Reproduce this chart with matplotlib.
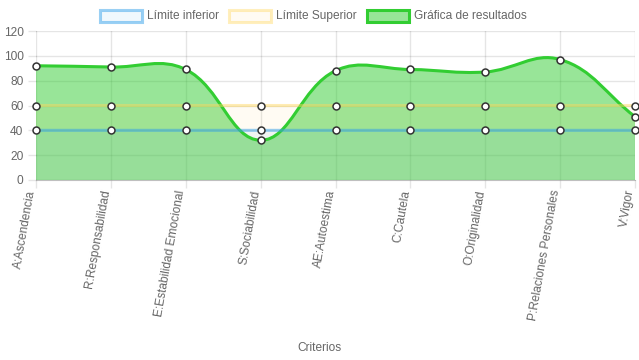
import matplotlib
matplotlib.use("Agg")
import matplotlib.pyplot as plt
from matplotlib.path import Path
from matplotlib.patches import PathPatch, Rectangle
from matplotlib.transforms import ScaledTranslation, blended_transform_factory
import numpy as np

categories = ["A:Ascendencia", "R:Responsabilidad", "E:Estabilidad Emocional",
              "S:Sociabilidad", "AE:Autoestima", "C:Cautela", "O:Originalidad",
              "P:Relaciones Personales", "V:Vigor"]
limite_inferior = [40, 40, 40, 40, 40, 40, 40, 40, 40]
limite_superior = [60, 60, 60, 60, 60, 60, 60, 60, 60]
resultados = [92, 91, 89, 32, 88, 89, 87, 97, 51]
y_ticks = [0, 20, 40, 60, 80, 100, 120]
legend_labels = ["Límite inferior", "Límite Superior", "Gráfica de resultados"]

plt.rcParams['font.family'] = ['Liberation Sans', 'DejaVu Sans']
TXT = '#666666'
FS = 8.6
W, H = 639, 360
fig = plt.figure(figsize=(W / 100, H / 100), dpi=100)
L, R, T, B = 36, 635, 31, 180
ax = fig.add_axes([L / W, 1 - B / H, (R - L) / W, (B - T) / H])
n = len(categories)
x = np.arange(n)
ax.set_xlim(0, n - 1)
ax.set_ylim(0, 120)

def spline_path(xs, ys, tension=0.4):
    pts = ax.transData.transform(np.column_stack([xs, ys]))
    m = len(pts)
    verts = [pts[0]]
    codes = [Path.MOVETO]
    cps = []
    for i in range(m):
        prev = pts[i - 1] if i > 0 else pts[i]
        cur = pts[i]
        nxt = pts[i + 1] if i < m - 1 else pts[i]
        d01 = np.hypot(*(cur - prev))
        d12 = np.hypot(*(nxt - cur))
        tot = d01 + d12
        s01 = d01 / tot if tot else 0
        s12 = d12 / tot if tot else 0
        fa, fb = tension * s01, tension * s12
        cps.append((cur - fa * (nxt - prev), cur + fb * (nxt - prev)))
    for i in range(1, m):
        verts += [cps[i - 1][1], cps[i][0], pts[i]]
        codes += [Path.CURVE4] * 3
    inv = ax.transData.inverted()
    return inv.transform(np.array(verts)), codes

def area(xs, ys):
    v, c = spline_path(xs, ys)
    v = np.vstack([[xs[0], 0], v, [xs[-1], 0], [xs[0], 0]])
    c = [Path.MOVETO, Path.LINETO] + c[1:] + [Path.LINETO, Path.CLOSEPOLY]
    return Path(v, c)

series = [
    (resultados, (50/255, 205/255, 50/255, 1.0), (50/255, 205/255, 50/255, 0.5)),
    (limite_superior, (255/255, 215/255, 90/255, 0.45), (255/255, 205/255, 86/255, 0.07)),
    (limite_inferior, (54/255, 162/255, 235/255, 0.5), (54/255, 162/255, 235/255, 0.07)),
]

# grid
for yv in y_ticks:
    ax.axhline(yv, color=(0, 0, 0, 0.1), lw=1, zorder=0)
for xv in x:
    ax.axvline(xv, color=(0, 0, 0, 0.1), lw=1, zorder=0)

for k, (vals, lc, fc) in enumerate(series):
    ax.add_patch(PathPatch(area(x, vals), facecolor=fc, edgecolor='none', zorder=1))
for k, (vals, lc, fc) in enumerate(series):
    v, c = spline_path(x, vals)
    ax.add_patch(PathPatch(Path(v, c), facecolor='none', edgecolor=lc, lw=2.2,
                           zorder=2 + k, clip_on=False))
    ax.plot(x, vals, 'o', ms=5, mfc='white', mec='#333333', mew=1.1,
            zorder=2.5 + k, clip_on=False)

for s in ['top', 'right', 'left']:
    ax.spines[s].set_visible(False)
ax.spines['bottom'].set_color((0, 0, 0, 0.25))
ax.spines['bottom'].set_zorder(10)
ax.set_yticks(y_ticks)
ax.set_yticklabels([str(v) for v in y_ticks], color=TXT, fontsize=FS)
ax.set_xticks(x)
ax.set_xticklabels([])
ax.tick_params(axis='both', length=6, color=(0, 0, 0, 0.1), width=1, pad=3)
btrans = blended_transform_factory(ax.transData, ax.transAxes)
off = ScaledTranslation(-4 / 100, -10 / 100, fig.dpi_scale_trans)
for xi, lab in zip(x, categories):
    ax.text(xi, 0, lab, transform=btrans + off, rotation=80, ha='right',
            va='center', rotation_mode='anchor', color=TXT, fontsize=FS,
            clip_on=False)
ax.text(0.5, 1 - 348 / H, "Criterios", transform=fig.transFigure, ha='center',
        va='center', color=TXT, fontsize=FS)

# legend
boxes = [(100, 147), (229, 276), (367, 414)]
legend_cols = [series[2], series[1], series[0]]
for (bx, tx), lab, (vals, lc, fc) in zip(boxes, legend_labels, legend_cols):
    ec = lc if lab != legend_labels[1] else (255/255, 215/255, 90/255, 0.4)
    fig.patches.append(Rectangle((bx / W, 1 - 22 / H), 42 / W, 12 / H,
                                 transform=fig.transFigure, facecolor=fc,
                                 edgecolor=ec, lw=2.2))
    fig.text(tx / W, 1 - 16 / H, lab, ha='left', va='center', color=TXT, fontsize=FS)

fig.savefig("out.png", dpi=100)
